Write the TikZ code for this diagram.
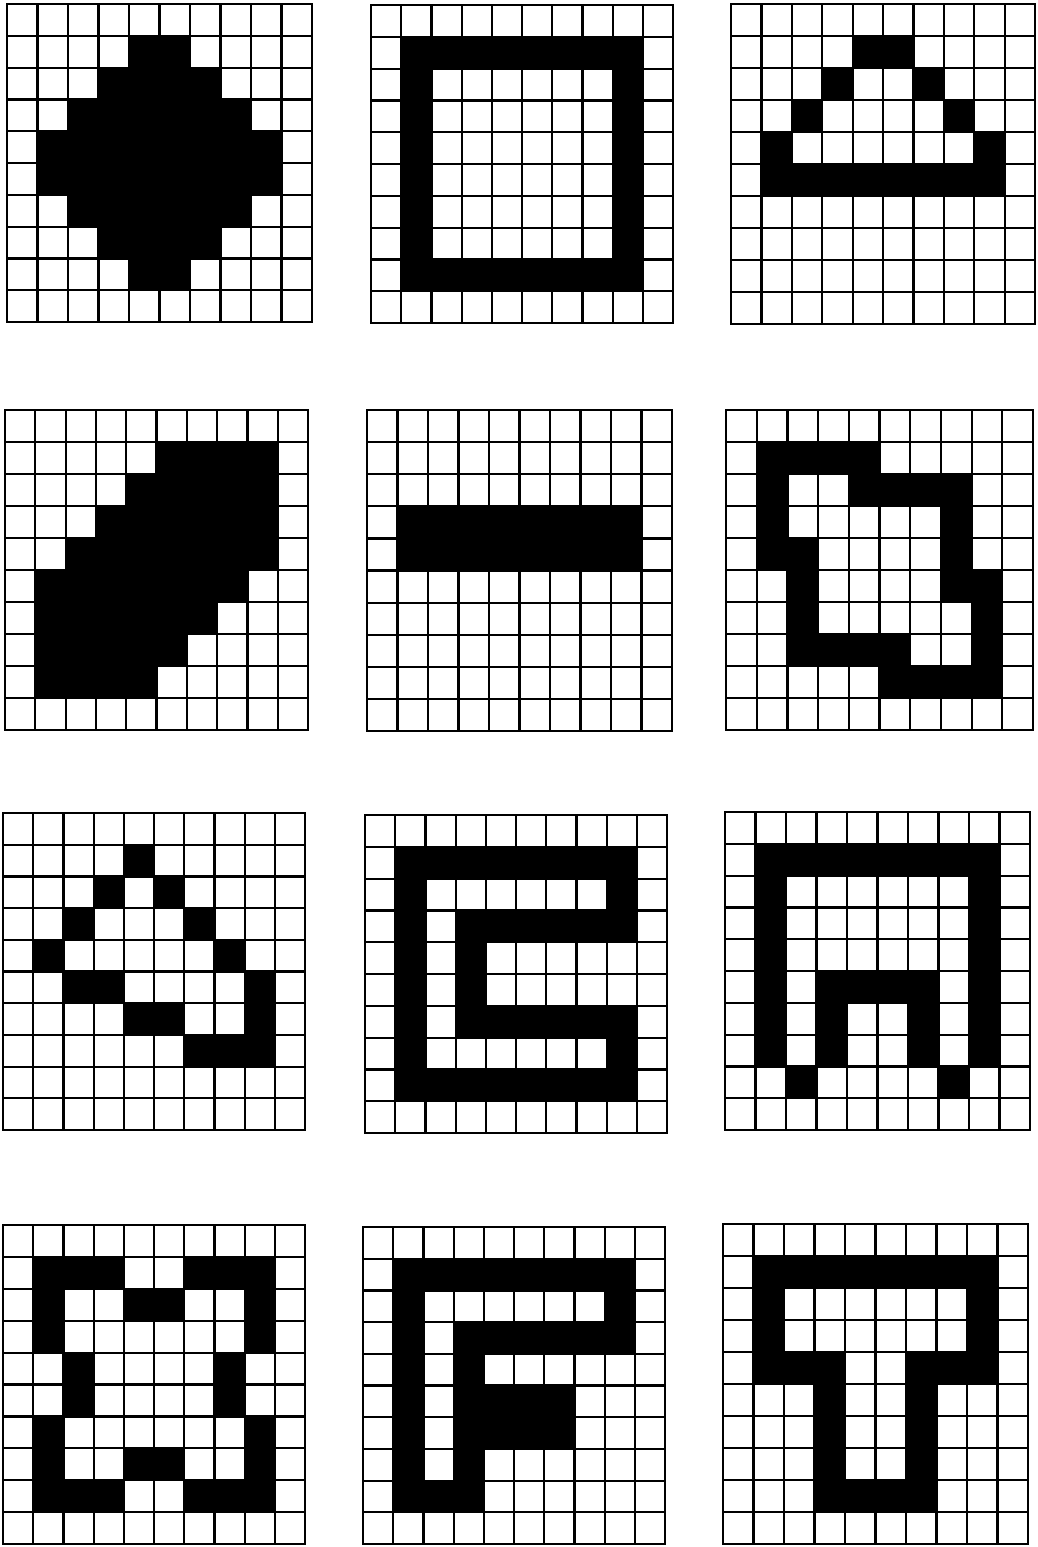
\documentclass[tikz,border=0pt]{standalone}
\tikzset{gridline/.style={line width=2.2pt,line cap=rect}}
\newcommand\pixgrid[5]{%
  \pgfmathsetmacro\pgcw{#3/10}%
  \pgfmathsetmacro\pgch{#4/10}%
  \begin{scope}[shift={(#1,#2)}]
  \begin{scope}[x=\pgcw pt,y=-\pgch pt]
    \foreach \r/\cs in {#5} {\foreach \c in \cs {\fill[black] (\c,\r) rectangle ++(1,1);}}
    \foreach \i in {0,...,10} {\draw[gridline] (\i,0) -- (\i,10); \draw[gridline] (0,\i) -- (10,\i);}
  \end{scope}
  \end{scope}}
\begin{document}
\begin{tikzpicture}[x=1pt,y=-1pt]
\useasboundingbox[fill=white] (0,0) rectangle (1038,1547);
% row 1
\pixgrid{7}{4}{305}{318}{1/{4,5},2/{3,...,6},3/{2,...,7},4/{1,...,8},5/{1,...,8},6/{2,...,7},7/{3,...,6},8/{4,5}}
\pixgrid{371}{5}{302}{318}{1/{1,...,8},2/{1,8},3/{1,8},4/{1,8},5/{1,8},6/{1,8},7/{1,8},8/{1,...,8}}
\pixgrid{731}{4}{304}{320}{1/{4,5},2/{3,6},3/{2,7},4/{1,8},5/{1,...,8}}
% row 2
\pixgrid{5}{410}{303}{320}{1/{5,...,8},2/{4,...,8},3/{3,...,8},4/{2,...,8},5/{1,...,7},6/{1,...,6},7/{1,...,5},8/{1,...,4}}
\pixgrid{367}{410}{305}{321}{3/{1,...,8},4/{1,...,8}}
\pixgrid{726}{410}{307}{320}{1/{1,...,4},2/{1,4,5,6,7},3/{1,7},4/{1,2,7},5/{2,7,8},6/{2,8},7/{2,3,4,5,8},8/{5,6,7,8}}
% row 3
\pixgrid{3}{813}{302}{317}{1/{4},2/{3,5},3/{2,6},4/{1,7},5/{2,3,8},6/{4,5,8},7/{6,7,8}}
\pixgrid{365}{815}{302}{318}{1/{1,...,8},2/{1,8},3/{1,3,4,5,6,7,8},4/{1,3},5/{1,3},6/{1,3,4,5,6,7,8},7/{1,8},8/{1,...,8}}
\pixgrid{725}{812}{305}{318}{1/{1,...,8},2/{1,8},3/{1,8},4/{1,8},5/{1,3,4,5,6,8},6/{1,3,6,8},7/{1,3,6,8},8/{2,7}}
% row 4
\pixgrid{3}{1225}{302}{319}{1/{1,2,3,6,7,8},2/{1,4,5,8},3/{1,8},4/{2,7},5/{2,7},6/{1,8},7/{1,4,5,8},8/{1,2,3,6,7,8}}
\pixgrid{363}{1227}{302}{317}{1/{1,...,8},2/{1,8},3/{1,3,4,5,6,7,8},4/{1,3},5/{1,3,4,5,6},6/{1,3,4,5,6},7/{1,3},8/{1,2,3}}
\pixgrid{723}{1224}{305}{320}{1/{1,...,8},2/{1,8},3/{1,8},4/{1,2,3,6,7,8},5/{3,6},6/{3,6},7/{3,6},8/{3,4,5,6}}
\end{tikzpicture}
\end{document}
